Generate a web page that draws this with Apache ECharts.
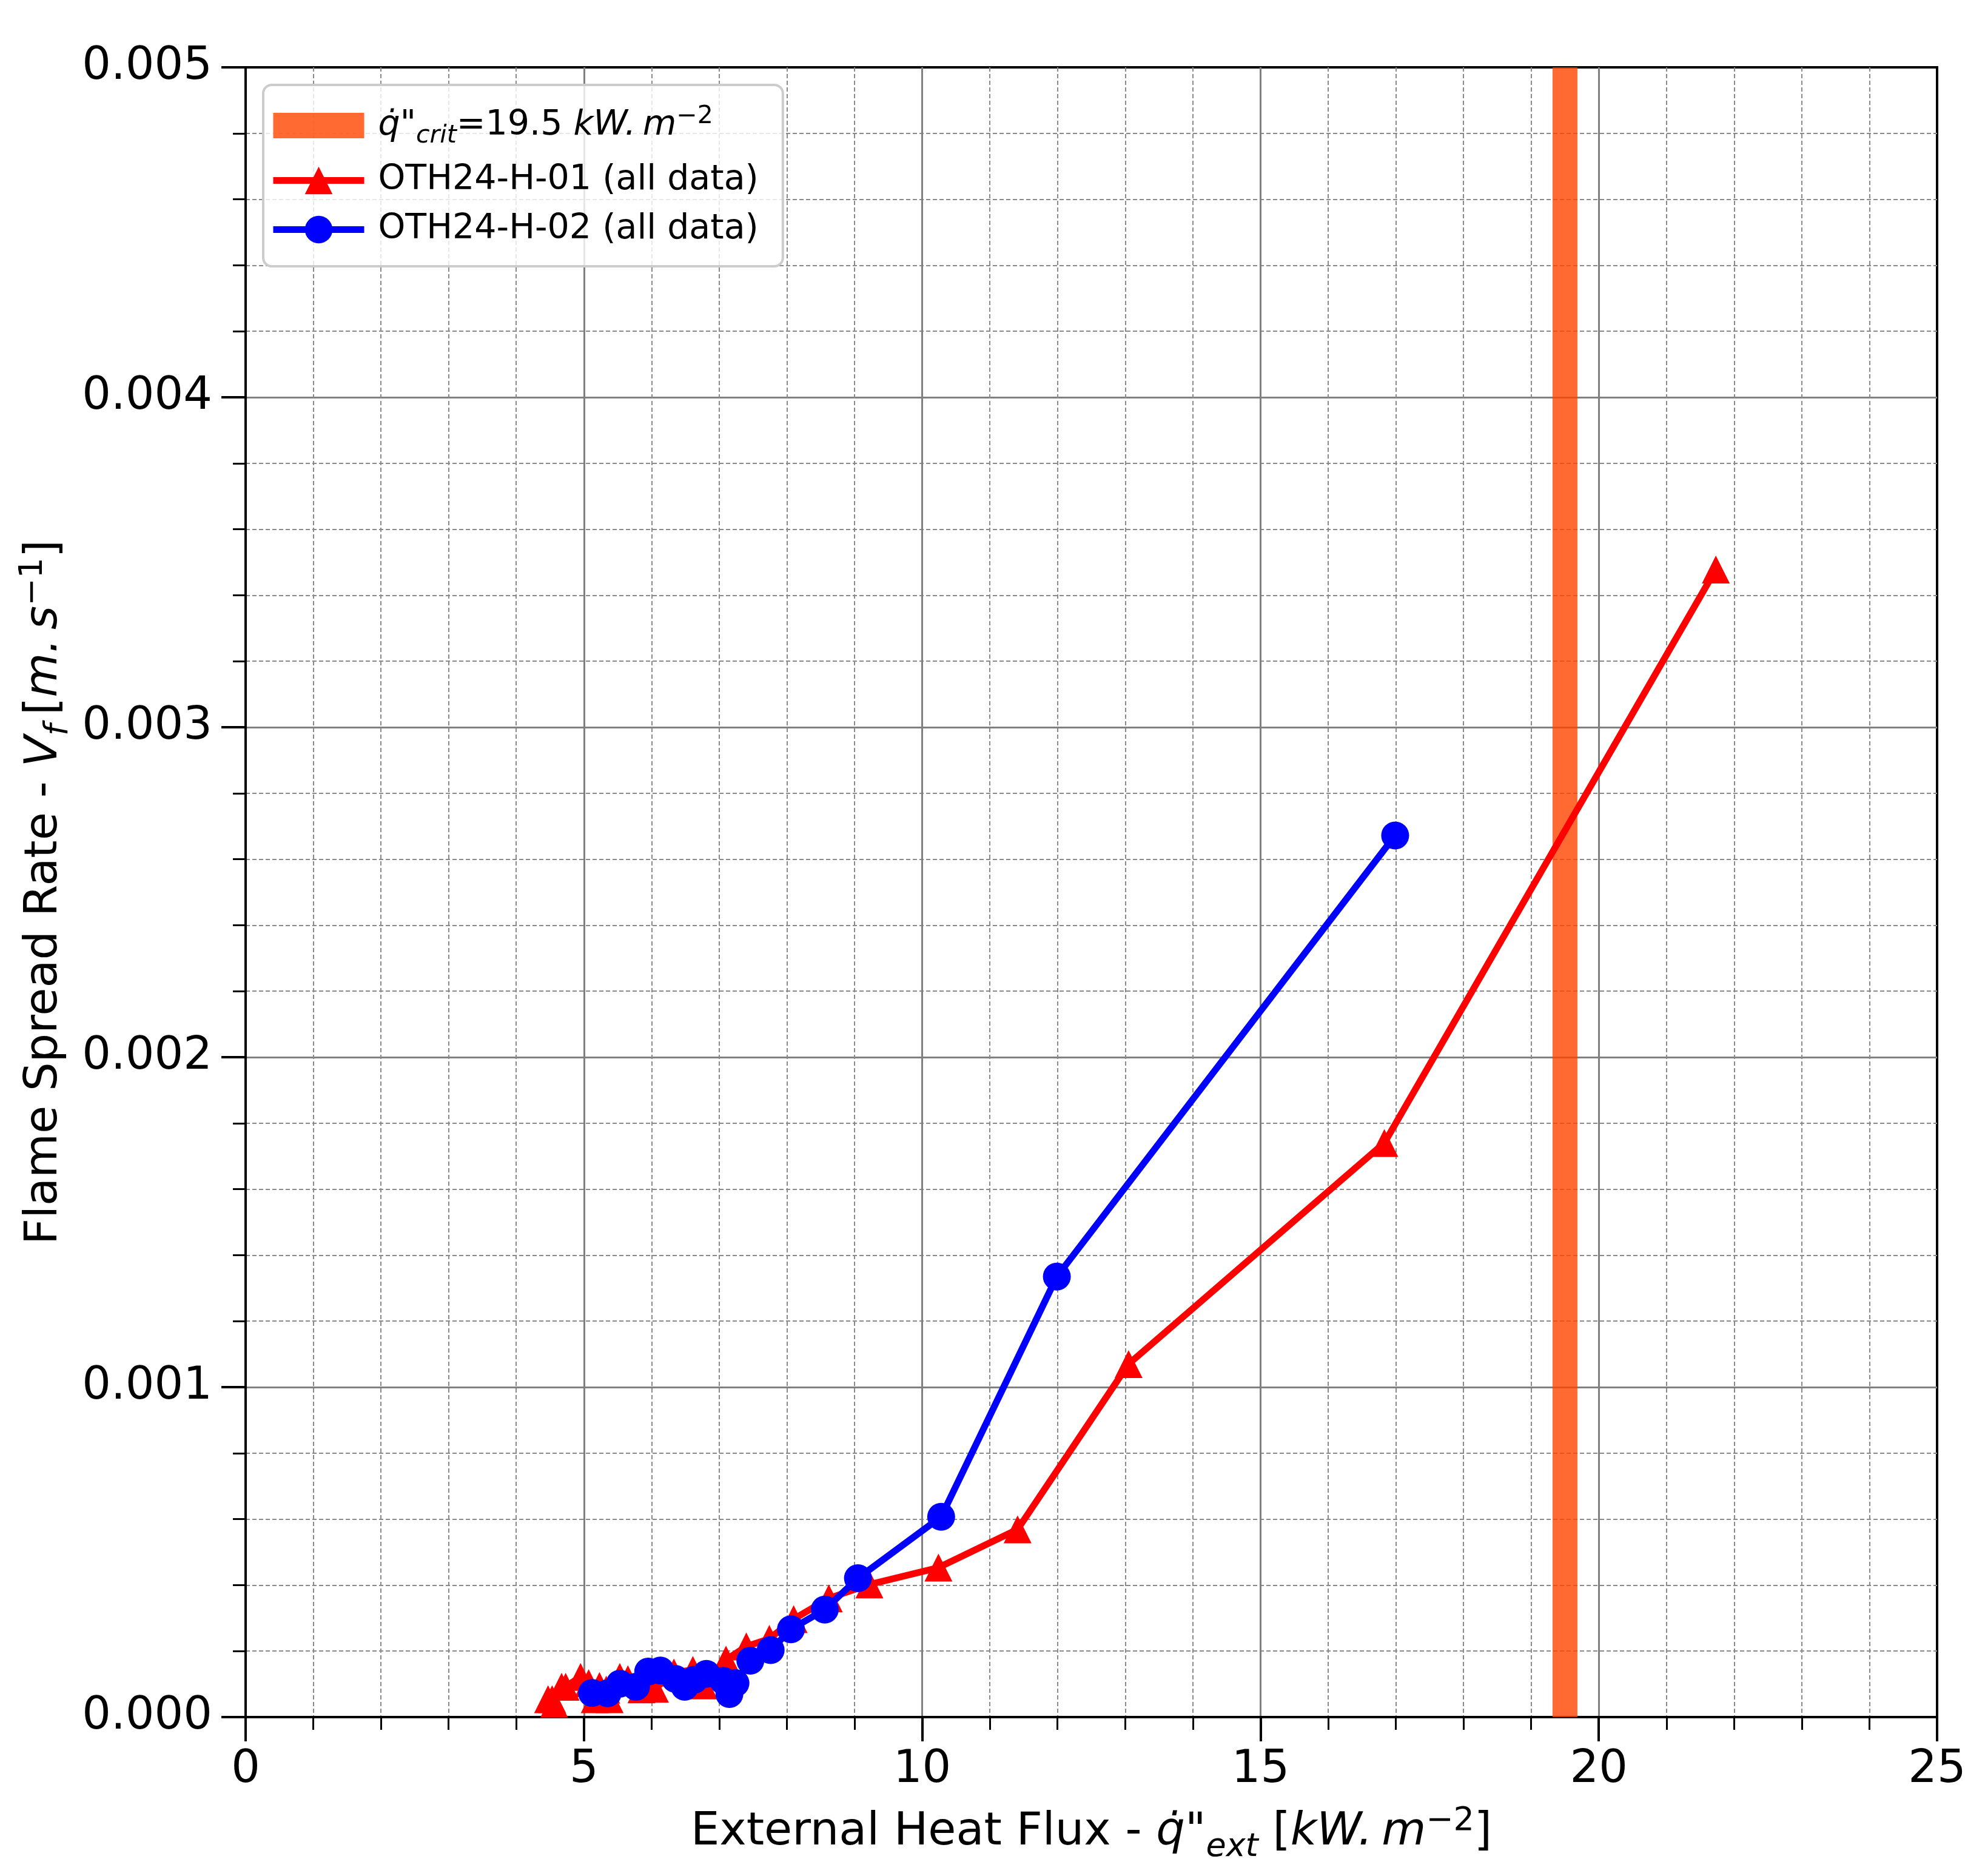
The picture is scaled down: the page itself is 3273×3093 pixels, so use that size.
<!DOCTYPE html>
<html>
<head>
<meta charset="utf-8">
<script src="https://cdn.jsdelivr.net/npm/echarts@6.0.0/dist/echarts.min.js"></script>
<style>
  html, body { margin: 0; padding: 0; background: #fff; }
  #chart { width: 3273px; height: 3093px; }
</style>
</head>
<body>
<div id="chart"></div>
<script>
  const FONT = 'DejaVu Sans';

  // OTH24-H-01 (red triangles)
  const redX = [4.47, 4.53, 4.56, 4.67, 4.73, 4.95, 5.07, 5.16, 5.23, 5.33, 5.38, 5.53, 5.65, 5.85, 6.05,
                6.33, 6.61, 6.77, 7.10, 7.40, 7.74, 8.10, 8.62, 9.22, 10.24, 11.41, 13.05, 16.83, 21.73];
  const redY = [0.000054, 0.000054, 0.000040, 0.000092, 0.000092, 0.000122, 0.000103, 0.000054, 0.000094, 0.000083, 0.000054, 0.000122, 0.000115, 0.000084, 0.000086,
                0.000135, 0.000143, 0.000096, 0.000174, 0.000214, 0.000237, 0.000297, 0.000360, 0.000402, 0.000453, 0.000569, 0.001070, 0.001740, 0.003478];

  // OTH24-H-02 (blue circles)
  const blueX = [5.12, 5.35, 5.53, 5.77, 5.95, 6.13, 6.35, 6.49, 6.63, 6.81, 7.06, 7.15, 7.24,
                 7.46, 7.76, 8.06, 8.56, 9.05, 10.28, 11.99, 16.99];
  const blueY = [0.000073, 0.000072, 0.000101, 0.000092, 0.000138, 0.000141, 0.000116, 0.000092, 0.000113, 0.000131, 0.000110, 0.000070, 0.000103,
                 0.000171, 0.000203, 0.000266, 0.000326, 0.000421, 0.000607, 0.001335, 0.002672];

  // critical heat flux band
  const critFlux = 19.5;
  const critSpan = [0, 0.005];

  const seriesNames = ['crit', 'OTH24-H-01 (all data)', 'OTH24-H-02 (all data)'];
  const legendText = {
    'crit': '{i|q\u0307}{n|"}{sub|crit}{n|=19.5 }{i|kW.\u2009m}{sup|\u22122}',
    'OTH24-H-01 (all data)': '{n|OTH24-H-01 (all data)}',
    'OTH24-H-02 (all data)': '{n|OTH24-H-02 (all data)}'
  };

  const xTicks = { min: 0, max: 25, step: 5 };
  const yTicks = { min: 0, max: 0.005, step: 0.001 };

  function pairs(xs, ys) {
    return xs.map((x, i) => [x, ys[i]]);
  }

  function richSet(size, lh) {
    const s = Math.round(size * 0.72);
    return {
      n: { fontSize: size, fontFamily: FONT, color: '#000', lineHeight: lh },
      i: { fontSize: size, fontFamily: FONT, fontStyle: 'italic', color: '#000', lineHeight: lh },
      sub: { fontSize: s, fontFamily: FONT, fontStyle: 'italic', color: '#000', lineHeight: lh, padding: [Math.round(size * 0.62), 0, 0, 0] },
      sup: { fontSize: s, fontFamily: FONT, color: '#000', lineHeight: lh, padding: [0, 0, Math.round(size * 0.5), 0] }
    };
  }

  const axisCommon = {
    type: 'value',
    axisLine: { show: true, onZero: false, lineStyle: { color: '#000', width: 4 } },
    axisTick: { show: true, inside: false, length: 40, lineStyle: { color: '#000', width: 4 } },
    minorTick: { show: true, splitNumber: 5, length: 21, lineStyle: { color: '#000', width: 3 } },
    splitLine: { show: true, showMinLine: false, showMaxLine: false, lineStyle: { color: '#808080', width: 3 } },
    minorSplitLine: { show: true, lineStyle: { color: '#8a8a8a', width: 2, type: [7, 4] } }
  };

  const chart = echarts.init(document.getElementById('chart'), null, { renderer: 'canvas' });

  const option = {
    animation: false,
    backgroundColor: '#fff',
    grid: {
      left: 405, right: 79, top: 111, bottom: 262,
      show: true, borderColor: '#000', borderWidth: 4, backgroundColor: 'transparent'
    },
    xAxis: Object.assign({}, axisCommon, {
      min: xTicks.min, max: xTicks.max, interval: xTicks.step,
      axisLabel: { fontSize: 75, fontFamily: FONT, color: '#000', margin: 50 },
      name: '{n|External Heat Flux - }{i|q\u0307}{n|"}{sub|ext}{n| [}{i|kW.\u2009m}{sup|\u22122}{n|]}',
      nameLocation: 'middle',
      nameGap: 146,
      nameTextStyle: { fontSize: 75, fontFamily: FONT, color: '#000', rich: richSet(75, 90) }
    }),
    yAxis: Object.assign({}, axisCommon, {
      min: yTicks.min, max: yTicks.max, interval: yTicks.step,
      axisLabel: {
        fontSize: 75, fontFamily: FONT, color: '#000', margin: 55,
        formatter: v => v.toFixed(3)
      },
      name: '{n|Flame Spread Rate - }{i|V}{sub|f}{n|\u2009[}{i|m.\u2009s}{sup|\u22121}{n|]}',
      nameLocation: 'middle',
      nameRotate: 90,
      nameGap: 285,
      nameTextStyle: { fontSize: 75, fontFamily: FONT, color: '#000', rich: richSet(75, 90) }
    }),
    legend: {
      orient: 'vertical',
      left: 434,
      top: 140,
      padding: [29, 40, 32, 11],
      itemWidth: 150,
      itemHeight: 57,
      itemGap: 24,
      backgroundColor: 'rgba(255,255,255,0.8)',
      borderColor: '#cccccc',
      borderWidth: 4,
      borderRadius: 14,
      selectedMode: false,
      itemStyle: { borderWidth: 0 },
      lineStyle: { width: 11 },
      textStyle: { fontSize: 57, fontFamily: FONT, color: '#000', padding: [0, 0, 0, 18], rich: richSet(57, 60) },
      formatter: name => legendText[name] || name,
      data: [
        { name: seriesNames[0], icon: 'path://M0,0L0.01,0L0,0.01Z M0,7.5H150V49.5H0Z M150,57L149.99,57L150,56.99Z' },
        { name: seriesNames[1], lineStyle: { width: 11, color: '#ff0000' } },
        { name: seriesNames[2], lineStyle: { width: 11, color: '#0000ff' } }
      ]
    },
    series: [
      {
        name: seriesNames[0],
        type: 'line',
        data: critSpan.map(v => [critFlux, v]),
        symbol: 'none',
        silent: true,
        z: 1,
        lineStyle: { color: 'rgba(255,69,0,0.8)', width: 41, cap: 'butt' },
        itemStyle: { color: 'rgba(255,69,0,0.8)' }
      },
      {
        name: seriesNames[1],
        type: 'line',
        data: pairs(redX, redY),
        symbol: 'triangle',
        symbolSize: 46,
        showAllSymbol: true,
        z: 2,
        lineStyle: { color: '#ff0000', width: 11 },
        itemStyle: { color: '#ff0000', borderWidth: 0 }
      },
      {
        name: seriesNames[2],
        type: 'line',
        data: pairs(blueX, blueY),
        symbol: 'circle',
        symbolSize: 46,
        showAllSymbol: true,
        z: 3,
        lineStyle: { color: '#0000ff', width: 11 },
        itemStyle: { color: '#0000ff', borderWidth: 0 }
      }
    ]
  };

  chart.setOption(option);
</script>
</body>
</html>
